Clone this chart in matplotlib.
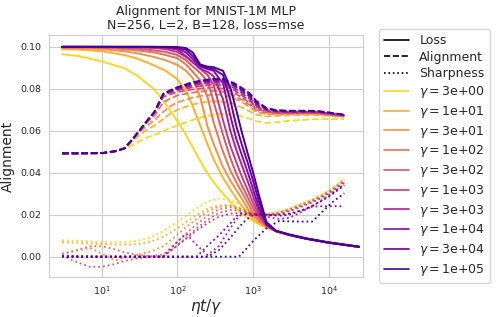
import numpy as np
import matplotlib
matplotlib.use("Agg")
import matplotlib.pyplot as plt
from matplotlib.lines import Line2D
import seaborn as sns

# gamma values, low -> high
gammas = [3e0, 1e1, 3e1, 1e2, 3e2, 1e3, 3e3, 1e4, 3e4, 1e5]

# loss curves (solid)
loss_x = [3, 5, 10, 20, 30, 50, 70, 100, 130, 160, 200, 250, 300, 400, 500,
          600, 700, 850, 1000, 1200, 1500, 2000, 3000, 5000, 10000, 25000]
loss_y = [
    [0.0964, 0.0955, 0.0930, 0.0897, 0.0860, 0.0795, 0.0728, 0.0645, 0.0580, 0.0520, 0.0455, 0.0395, 0.0355,
     0.0300, 0.0262, 0.0230, 0.0205, 0.0185, 0.0170, 0.0155, 0.0138, 0.0123, 0.0106, 0.0088, 0.0068, 0.0048],
    [0.0988, 0.0986, 0.0978, 0.0960, 0.0942, 0.0910, 0.0885, 0.0845, 0.0790, 0.0715, 0.0625, 0.0535, 0.0465,
     0.0375, 0.0320, 0.0278, 0.0245, 0.0205, 0.0178, 0.0158, 0.0140, 0.0122, 0.0105, 0.0087, 0.0067, 0.0047],
    [0.0993, 0.0992, 0.0988, 0.0978, 0.0968, 0.0950, 0.0935, 0.0913, 0.0885, 0.0850, 0.0760, 0.0620, 0.0538,
     0.0427, 0.0362, 0.0317, 0.0279, 0.0230, 0.0195, 0.0166, 0.0143, 0.0122, 0.0104, 0.0086, 0.0067, 0.0047],
    [0.0996, 0.0996, 0.0994, 0.0988, 0.0982, 0.0972, 0.0960, 0.0945, 0.0915, 0.0880, 0.0840, 0.0760, 0.0640,
     0.0500, 0.0410, 0.0354, 0.0311, 0.0256, 0.0210, 0.0175, 0.0146, 0.0122, 0.0104, 0.0086, 0.0067, 0.0047],
    [0.0998, 0.0998, 0.0997, 0.0994, 0.0990, 0.0982, 0.0975, 0.0960, 0.0935, 0.0905, 0.0875, 0.0835, 0.0740,
     0.0580, 0.0470, 0.0395, 0.0344, 0.0283, 0.0232, 0.0188, 0.0148, 0.0121, 0.0103, 0.0086, 0.0066, 0.0046],
    [0.0999, 0.0999, 0.0998, 0.0997, 0.0996, 0.0993, 0.0988, 0.0974, 0.0950, 0.0925, 0.0895, 0.0865, 0.0820,
     0.0650, 0.0527, 0.0450, 0.0387, 0.0316, 0.0257, 0.0195, 0.0150, 0.0121, 0.0103, 0.0085, 0.0066, 0.0046],
    [0.0999, 0.0999, 0.0999, 0.0998, 0.0998, 0.0997, 0.0995, 0.0985, 0.0955, 0.0925, 0.0895, 0.0880, 0.0860,
     0.0750, 0.0600, 0.0508, 0.0441, 0.0358, 0.0288, 0.0214, 0.0152, 0.0122, 0.0104, 0.0086, 0.0067, 0.0047],
    [0.0999, 0.0999, 0.0999, 0.0999, 0.0999, 0.0998, 0.0997, 0.0992, 0.0972, 0.0940, 0.0905, 0.0893, 0.0885,
     0.0825, 0.0670, 0.0560, 0.0490, 0.0400, 0.0320, 0.0232, 0.0153, 0.0122, 0.0104, 0.0086, 0.0067, 0.0047],
    [0.0999, 0.0999, 0.0999, 0.0999, 0.0999, 0.0999, 0.0998, 0.0996, 0.0985, 0.0955, 0.0910, 0.0898, 0.0893,
     0.0865, 0.0744, 0.0622, 0.0540, 0.0446, 0.0360, 0.0260, 0.0155, 0.0123, 0.0105, 0.0086, 0.0067, 0.0047],
    [0.0999, 0.0999, 0.0999, 0.0999, 0.0999, 0.0999, 0.0999, 0.0998, 0.0993, 0.0972, 0.0915, 0.0905, 0.0902,
     0.0885, 0.0805, 0.0697, 0.0600, 0.0490, 0.0400, 0.0290, 0.0165, 0.0124, 0.0105, 0.0087, 0.0068, 0.0048],
]

# alignment curves (dashed)
align_x = [3, 5, 10, 15, 20, 25, 32, 40, 50, 65, 80, 100, 150, 200, 300, 400,
           550, 700, 900, 1100, 1500, 2000, 3000, 5000, 7000, 10000, 16000]
align_y = [
    [0.0492, 0.0492, 0.0493, 0.0500, 0.0512, 0.0530, 0.0552, 0.0568, 0.0580, 0.0598, 0.0612, 0.0625, 0.0648, 0.0662,
     0.0675, 0.0680, 0.0676, 0.0668, 0.0656, 0.0645, 0.0636, 0.0640, 0.0647, 0.0652, 0.0655, 0.0655, 0.0655],
    [0.0492, 0.0492, 0.0493, 0.0502, 0.0515, 0.0548, 0.0580, 0.0605, 0.0625, 0.0655, 0.0680, 0.0700, 0.0722, 0.0733,
     0.0740, 0.0738, 0.0728, 0.0712, 0.0692, 0.0676, 0.0668, 0.0670, 0.0673, 0.0675, 0.0674, 0.0670, 0.0665],
    [0.0492, 0.0492, 0.0493, 0.0502, 0.0516, 0.0553, 0.0595, 0.0625, 0.0650, 0.0690, 0.0715, 0.0735, 0.0755, 0.0765,
     0.0772, 0.0770, 0.0755, 0.0738, 0.0712, 0.0690, 0.0678, 0.0678, 0.0679, 0.0680, 0.0679, 0.0674, 0.0668],
    [0.0492, 0.0492, 0.0493, 0.0502, 0.0516, 0.0555, 0.0601, 0.0640, 0.0672, 0.0735, 0.0752, 0.0768, 0.0780, 0.0786,
     0.0790, 0.0785, 0.0768, 0.0748, 0.0722, 0.0698, 0.0685, 0.0682, 0.0682, 0.0683, 0.0682, 0.0676, 0.0670],
    [0.0492, 0.0492, 0.0493, 0.0502, 0.0516, 0.0555, 0.0603, 0.0646, 0.0685, 0.0760, 0.0772, 0.0784, 0.0795, 0.0800,
     0.0806, 0.0800, 0.0782, 0.0760, 0.0732, 0.0705, 0.0690, 0.0685, 0.0684, 0.0685, 0.0684, 0.0678, 0.0671],
    [0.0492, 0.0492, 0.0493, 0.0502, 0.0516, 0.0555, 0.0603, 0.0648, 0.0688, 0.0770, 0.0780, 0.0792, 0.0805, 0.0812,
     0.0820, 0.0815, 0.0795, 0.0770, 0.0742, 0.0712, 0.0694, 0.0688, 0.0686, 0.0687, 0.0686, 0.0680, 0.0672],
    [0.0492, 0.0492, 0.0493, 0.0502, 0.0516, 0.0555, 0.0603, 0.0648, 0.0690, 0.0773, 0.0785, 0.0798, 0.0813, 0.0822,
     0.0830, 0.0826, 0.0805, 0.0780, 0.0752, 0.0720, 0.0698, 0.0691, 0.0689, 0.0689, 0.0688, 0.0682, 0.0673],
    [0.0492, 0.0492, 0.0493, 0.0502, 0.0516, 0.0555, 0.0603, 0.0648, 0.0690, 0.0775, 0.0788, 0.0802, 0.0820, 0.0830,
     0.0838, 0.0835, 0.0815, 0.0790, 0.0762, 0.0728, 0.0702, 0.0694, 0.0691, 0.0691, 0.0690, 0.0684, 0.0674],
    [0.0492, 0.0492, 0.0493, 0.0502, 0.0516, 0.0555, 0.0603, 0.0648, 0.0690, 0.0775, 0.0790, 0.0805, 0.0825, 0.0835,
     0.0844, 0.0842, 0.0822, 0.0798, 0.0770, 0.0735, 0.0705, 0.0696, 0.0693, 0.0693, 0.0692, 0.0685, 0.0675],
    [0.0492, 0.0492, 0.0493, 0.0502, 0.0516, 0.0555, 0.0603, 0.0648, 0.0690, 0.0775, 0.0792, 0.0807, 0.0828, 0.0838,
     0.0847, 0.0846, 0.0828, 0.0805, 0.0778, 0.0742, 0.0708, 0.0698, 0.0695, 0.0695, 0.0694, 0.0687, 0.0676],
]

# sharpness curves (dotted)
sharp_x = [3, 5, 7, 10, 15, 20, 30, 45, 65, 90, 130, 180, 250, 350, 500, 650,
           800, 1000, 1500, 2200, 3000, 4500, 6000, 8000, 11000, 16000]
sharp_y = [
    [0.0078, 0.0075, 0.0072, 0.0069, 0.0068, 0.0069, 0.0076, 0.0093, 0.0122, 0.0155, 0.0195, 0.0230, 0.0262,
     0.0278, 0.0270, 0.0250, 0.0232, 0.0218, 0.0205, 0.0215, 0.0230, 0.0255, 0.0272, 0.0295, 0.0325, 0.0372],
    [0.0068, 0.0066, 0.0063, 0.0060, 0.0058, 0.0057, 0.0060, 0.0072, 0.0095, 0.0125, 0.0165, 0.0198, 0.0228,
     0.0245, 0.0245, 0.0235, 0.0222, 0.0210, 0.0202, 0.0212, 0.0227, 0.0252, 0.0270, 0.0292, 0.0322, 0.0368],
    [0.0015, 0.0030, 0.0042, 0.0015, -0.0018, -0.0005, 0.0010, 0.0025, 0.0050, 0.0090, 0.0140, 0.0180, 0.0215,
     0.0238, 0.0242, 0.0232, 0.0220, 0.0208, 0.0200, 0.0210, 0.0225, 0.0250, 0.0268, 0.0290, 0.0320, 0.0365],
    [0.0012, 0.0035, 0.0050, 0.0050, 0.0035, 0.0020, 0.0008, 0.0002, 0.0010, 0.0055, 0.0110, 0.0155, 0.0195,
     0.0225, 0.0235, 0.0228, 0.0216, 0.0205, 0.0198, 0.0208, 0.0223, 0.0247, 0.0265, 0.0287, 0.0316, 0.0362],
    [0.0005, -0.0030, -0.0048, -0.0048, -0.0035, -0.0020, -0.0008, 0.0000, 0.0000, 0.0040, 0.0090, 0.0135, 0.0175,
     0.0208, 0.0222, 0.0220, 0.0212, 0.0202, 0.0196, 0.0205, 0.0220, 0.0244, 0.0262, 0.0284, 0.0313, 0.0358],
    [0.0005, 0.0003, 0.0002, 0.0001, 0.0000, 0.0000, 0.0000, 0.0000, 0.0002, 0.0040, 0.0085, 0.0125, 0.0160,
     0.0190, 0.0205, 0.0208, 0.0205, 0.0200, 0.0195, 0.0202, 0.0216, 0.0240, 0.0258, 0.0280, 0.0308, 0.0352],
    [0.0003, 0.0001, 0.0000, 0.0000, 0.0000, 0.0000, 0.0000, 0.0000, 0.0000, 0.0055, 0.0110, 0.0055, 0.0008,
     0.0050, 0.0135, 0.0195, 0.0200, 0.0200, 0.0190, 0.0180, 0.0185, 0.0215, 0.0240, 0.0268, 0.0300, 0.0345],
    [0.0002, 0.0000, 0.0000, 0.0000, 0.0000, 0.0000, 0.0000, 0.0000, 0.0000, 0.0000, 0.0000, 0.0000, 0.0052,
     0.0100, 0.0158, 0.0205, 0.0205, 0.0205, 0.0200, 0.0200, 0.0205, 0.0222, 0.0238, 0.0240, 0.0240, 0.0240],
    [0.0001, 0.0000, 0.0000, 0.0000, 0.0000, 0.0000, 0.0000, 0.0000, 0.0000, 0.0000, 0.0000, 0.0000, 0.0000,
     0.0030, 0.0090, 0.0140, 0.0175, 0.0198, 0.0200, 0.0195, 0.0200, 0.0222, 0.0242, 0.0265, 0.0296, 0.0340],
    [0.0000, 0.0000, 0.0000, 0.0000, 0.0000, 0.0000, 0.0000, 0.0000, 0.0000, 0.0000, 0.0000, 0.0000, 0.0000,
     0.0000, 0.0000, 0.0000, 0.0035, 0.0075, 0.0135, 0.0170, 0.0168, 0.0167, 0.0167, 0.0210, 0.0258, 0.0302],
]

sns.set_style("whitegrid")
plt.rcParams['font.family'] = ['DejaVu Sans']

fig = plt.figure(figsize=(4.98, 3.17), dpi=100)
ax = fig.add_axes([0.098, 0.126, 0.631, 0.764])

colors = plt.cm.plasma(np.linspace(0.92, 0.1, len(gammas)))

for k, g in enumerate(gammas):
    c = colors[k]
    ax.plot(loss_x, loss_y[k], color=c, lw=1.4, ls='-')
    ax.plot(align_x, align_y[k], color=c, lw=1.3, ls='--')
    ax.plot(sharp_x, sharp_y[k], color=c, lw=1.3, ls=':')

ax.set_xscale('log')
ax.set_xlim(2.0, 28300)
ax.set_ylim(-0.0097, 0.1056)
ax.set_yticks([0.0, 0.02, 0.04, 0.06, 0.08, 0.10])
ax.set_yticklabels(['0.00', '0.02', '0.04', '0.06', '0.08', '0.10'])
ax.tick_params(labelsize=6.8, pad=2)
ax.minorticks_off()

ax.set_xlabel(r'$\eta t/\gamma$', fontsize=11, labelpad=0)
ax.set_ylabel('Alignment', fontsize=10, labelpad=4)
ax.set_title('Alignment for MNIST-1M MLP\nN=256, L=2, B=128, loss=mse',
             fontsize=9, pad=4, linespacing=1.1)

handles = [Line2D([], [], color='black', ls='-', lw=1.2),
           Line2D([], [], color='black', ls='--', lw=1.2),
           Line2D([], [], color='black', ls=':', lw=1.2)]
labels = ['Loss', 'Alignment', 'Sharpness']
for k, g in enumerate(gammas):
    handles.append(Line2D([], [], color=colors[k], lw=1.2))
    labels.append(r'$\gamma = $' + f'{g:.0e}')

ax.legend(handles, labels, loc='center left', bbox_to_anchor=(1.052, 0.5),
          fontsize=9, frameon=True, borderaxespad=0.0, labelspacing=0.3,
          handletextpad=0.8)

fig.savefig('out.png', dpi=100)
